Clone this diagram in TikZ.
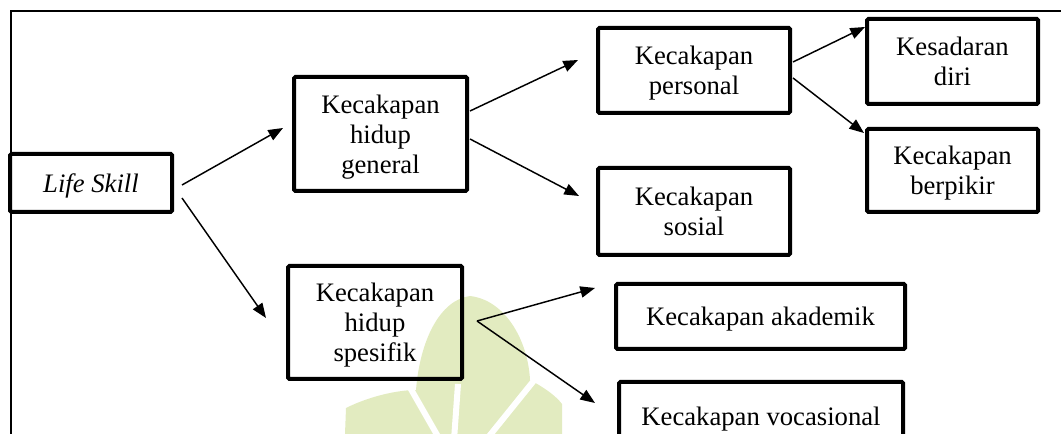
\documentclass[tikz,border=0pt]{standalone}
\usepackage{fontspec}
\setmainfont{Liberation Serif}
\usetikzlibrary{arrows.meta}
\definecolor{wm}{RGB}{226,235,192}
\begin{document}
\begin{tikzpicture}[x=0.75pt,y=-0.75pt,
  box/.style={draw, line width=3pt, rounded corners=1pt, align=center, inner sep=0pt,
    text depth=0pt, font=\fontsize{20}{22.5}\selectfont},
  arr/.style={line width=1.1pt, -{Triangle[length=11pt,width=8.5pt]}},
  frameline/.style={line width=1.5pt}]
\useasboundingbox (0,0) rectangle (1061,434);
\clip (0,0) rectangle (1061,434);
% faint watermark
\fill[wm] (345,434) -- (346,408) .. controls (370,396) and (398,390) .. (416,390)
  .. controls (420,340) and (440,300) .. (470,296) .. controls (505,300) and (528,340) .. (530,380)
  .. controls (545,388) and (556,396) .. (562,404) -- (562,434) -- cycle;
\draw[white, line width=4.5pt] (458,384) -- (454,440);
\draw[white, line width=4.5pt] (408,384) -- (440,440);
\draw[white, line width=4.5pt] (536,378) -- (486,440);
% frame
\draw[frameline] (11,434) -- (11,11) -- (1061,11);
% boxes
\node[box, minimum width=121.5pt, minimum height=43.5pt] (ls) at (91,183) {\itshape Life Skill};
\node[box, minimum width=129.75pt, minimum height=85.5pt] (gen) at (380.5,134) {Kecakapan\\hidup\\general};
\node[box, minimum width=130.5pt, minimum height=84.75pt] (spe) at (375,322.5) {Kecakapan\\hidup\\spesifik};
\node[box, minimum width=144pt, minimum height=63.75pt] (per) at (694,70.5) {Kecakapan\\personal};
\node[box, minimum width=144pt, minimum height=65.25pt] (sos) at (694,211.5) {Kecakapan\\sosial};
\node[box, minimum width=128.25pt, minimum height=63.75pt] (kes) at (952.5,61.5) {Kesadaran\\diri};
\node[box, minimum width=128.25pt, minimum height=62.25pt] (ber) at (952.5,170.5) {Kecakapan\\berpikir};
\node[box, minimum width=216.75pt, minimum height=48.75pt] (aka) at (760.5,316.5) {Kecakapan akademik};
\node[box, minimum width=213pt, minimum height=51pt] (voc) at (761,416) {Kecakapan vocasional};
% arrows
\draw[arr] ([shift={(8,2)}]ls.east) -- ([shift={(-9,-6)}]gen.west);
\draw[arr] ([shift={(8,15)}]ls.east) -- ([shift={(-20,-4.5)}]spe.west);
\draw[arr] ([shift={(1,-23)}]gen.east) -- ([shift={(-18,-10.5)}]per.west);
\draw[arr] ([shift={(1,5)}]gen.east) -- ([shift={(-17,-15.5)}]sos.west);
\draw[arr] ([shift={(1,-8.5)}]per.east) -- ([shift={(0,-34.5)}]kes.west);
\draw[arr] ([shift={(1,7.5)}]per.east) -- ([shift={(-1,-37.5)}]ber.west);
\draw[arr] ([shift={(13,-1.5)}]spe.east) -- ([shift={(-19,-28.5)}]aka.west);
\draw[arr] ([shift={(13,-1.5)}]spe.east) -- ([shift={(-22,23)}]voc.north west);
\end{tikzpicture}
\end{document}
